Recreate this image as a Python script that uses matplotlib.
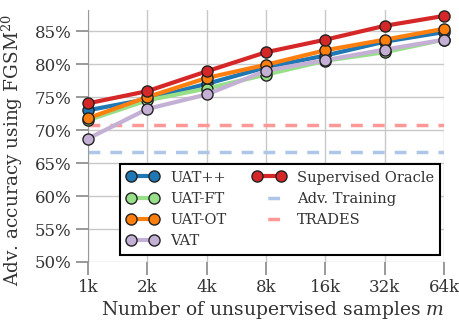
import matplotlib
matplotlib.use("Agg")
import matplotlib.pyplot as plt
from matplotlib.lines import Line2D

plt.rcParams['font.family'] = ['DejaVu Serif']
plt.rcParams['mathtext.fontset'] = 'dejavuserif'

x_labels = ["1k", "2k", "4k", "8k", "16k", "32k", "64k"]
uat_pp = [73.0, 74.7, 77.0, 79.5, 81.3, 83.4, 84.85]
uat_ft = [71.5, 74.5, 76.3, 78.4, 80.5, 81.8, 83.7]
uat_ot = [71.8, 75.0, 77.9, 79.9, 82.1, 83.7, 85.35]
vat = [68.7, 73.2, 75.4, 79.0, 80.6, 82.2, 83.7]
oracle = [74.05, 75.9, 78.9, 81.8, 83.7, 85.8, 87.3]
adv_training = 66.6
trades = 70.8

xs = list(range(len(x_labels)))

W, H = 460, 320
fig = plt.figure(figsize=(4.6, 3.2), dpi=100)
ax = fig.add_axes([88/W, 1-262/H, (444-88)/W, (262-10)/H])

series = [
    ("UAT++", uat_pp, "#1f77b4"),
    ("UAT-FT", uat_ft, "#98df8a"),
    ("UAT-OT", uat_ot, "#ff7f0e"),
    ("VAT", vat, "#c5b0d5"),
    ("Supervised Oracle", oracle, "#d62728"),
]
handles = {}
for i, (name, vals, c) in enumerate(series):
    h, = ax.plot(xs, vals, '-o', color=c, lw=3, ms=8, mec='#222222', mew=1.0,
                 label=name, clip_on=False, zorder=3 + i * 0.1)
    handles[name] = h

dash = (3.4, 2.9)
ax.axhline(adv_training, color="#aec7e8", lw=2.5, ls=(0, dash), zorder=2)
ax.axhline(trades, color="#ff9896", lw=2.5, ls=(0, dash), zorder=2)
handles["Adv. Training"] = Line2D([], [], color="#aec7e8", lw=2.5, ls=(20.3, (3.4, 20)))
handles["TRADES"] = Line2D([], [], color="#ff9896", lw=2.5, ls=(20.3, (3.4, 20)))

ax.set_xlim(0, len(xs) - 1)
ax.set_ylim(50, 88.2)
ax.set_xticks(xs)
ax.set_xticklabels(x_labels)
yt = [50, 55, 60, 65, 70, 75, 80, 85]
ax.set_yticks(yt)
ax.set_yticklabels([f"{v}%" for v in yt])

ax.grid(True, color="#c8c8c8", lw=1.0)
ax.set_axisbelow(True)
for s in ["top", "right", "bottom"]:
    ax.spines[s].set_visible(False)
ax.spines["left"].set_color("#999999")
ax.tick_params(axis='both', colors="#888888", length=9, width=1.2, labelsize=12,
               labelcolor="#333333", pad=3)

ax.set_xlabel("Number of unsupervised samples $m$", fontsize=13.5, color="#333333")
ax.set_ylabel("Adv. accuracy using FGSM$^{20}$", fontsize=13.3, color="#333333")
ax.xaxis.set_label_coords(0.52, -(299 - 262) / 252)
ax.yaxis.set_label_coords((25 - 88) / 356, 1 - (150 - 10) / 252)

order = ["UAT++", "UAT-FT", "UAT-OT", "VAT", "Supervised Oracle", "Adv. Training", "TRADES"]
leg = ax.legend([handles[k] for k in order], order, ncol=2, loc="lower right",
                bbox_to_anchor=(0.99, 0.028), borderaxespad=0, fontsize=10.5, frameon=True,
                fancybox=False, edgecolor="black", framealpha=1, handlelength=2.2,
                columnspacing=1.8, borderpad=0.45, labelspacing=0.5, numpoints=2,
                handletextpad=0.8)
leg.get_frame().set_linewidth(1.5)
for t in leg.get_texts():
    t.set_color("#333333")

fig.savefig("out.png", dpi=100)
